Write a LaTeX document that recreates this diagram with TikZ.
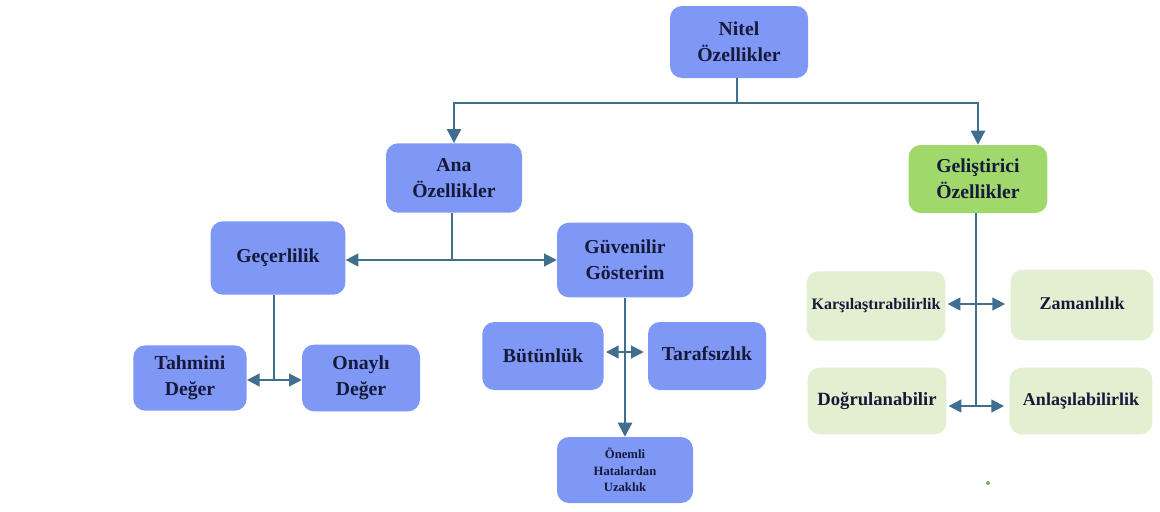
\documentclass[tikz,border=0pt]{standalone}
\usepackage{fontspec}
\setmainfont{Liberation Serif}
\usetikzlibrary{arrows.meta}
\definecolor{boxblue}{HTML}{7F98F6}
\definecolor{boxgreen}{HTML}{A0D86C}
\definecolor{lightgreen}{HTML}{E2EFD0}
\definecolor{txt}{HTML}{151A3A}
\definecolor{lineblue}{HTML}{3F6E8E}
\begin{document}
\begin{tikzpicture}[x=0.75pt,y=-0.75pt,
  bx/.style={rounded corners=9pt, inner sep=2pt, align=center, text=txt,
    font=\bfseries\fontsize{14.8}{19.5}\selectfont},
  bluebox/.style={bx, fill=boxblue},
  greenbox/.style={bx, fill=boxgreen},
  lgbox/.style={bx, fill=lightgreen},
  conn/.style={draw=lineblue, line width=1.6pt},
  onetip/.style={conn, -{Triangle[length=10.5pt,width=10.5pt]}},
  twotip/.style={conn, {Triangle[length=9.5pt,width=9.5pt]}-{Triangle[length=9.5pt,width=9.5pt]}}
]
\path[use as bounding box, fill=white] (0,0) rectangle (1160,511);

% nodes
\node[bluebox, minimum width=103.5pt, minimum height=54pt] (nitel) at (739,42) {Nitel\\Özellikler};
\node[bluebox, minimum width=102pt, minimum height=52pt] (ana) at (454,178) {Ana\\Özellikler};
\node[greenbox, minimum width=104pt, minimum height=51pt] (gel) at (978,179) {Geliştirici\\Özellikler};
\node[bluebox, minimum width=101pt, minimum height=55pt] (gec) at (278,258) {Geçerlilik};
\node[bluebox, minimum width=102pt, minimum height=56pt] (guv) at (625,260) {Güvenilir\\Gösterim};
\node[bluebox, minimum width=85pt, minimum height=49pt] (tah) at (190,378) {Tahmini\\Değer};
\node[bluebox, minimum width=88.5pt, minimum height=50pt] (ona) at (361,378) {Onaylı\\Değer};
\node[bluebox, minimum width=91pt, minimum height=51pt] (but) at (543,356) {Bütünlük};
\node[bluebox, minimum width=88.5pt, minimum height=51pt] (tar) at (707,356) {\raisebox{3pt}{Tarafsızlık}};
\node[bluebox, minimum width=102pt, minimum height=49.5pt,
      font=\bfseries\fontsize{9.5}{12.5}\selectfont] (one) at (625,470) {Önemli\\Hatalardan\\Uzaklık};
\node[lgbox, minimum width=104pt, minimum height=52pt,
      font=\bfseries\fontsize{12}{15}\selectfont] (kar) at (876,306) {Karşılaştırabilirlik};
\node[lgbox, minimum width=107pt, minimum height=53pt,
      font=\bfseries\fontsize{13.5}{17}\selectfont] (zam) at (1082,305) {\raisebox{2pt}{Zamanlılık}};
\node[lgbox, minimum width=104pt, minimum height=50pt,
      font=\bfseries\fontsize{14}{17}\selectfont] (dog) at (877,401) {Doğrulanabilir};
\node[lgbox, minimum width=107pt, minimum height=50pt,
      font=\bfseries\fontsize{13.5}{17}\selectfont] (anl) at (1081,401) {Anlaşılabilirlik};

% junctions
\coordinate (j1) at (737,103);
\coordinate (j2) at (452,260);
\coordinate (j3) at (274,380);
\coordinate (j4a) at (976,304);
\coordinate (j4) at (976,406);
\coordinate (j5) at (625,352);

% connectors
\draw[conn] (nitel.south -| j1) -- (j1);
\draw[onetip] (j1) -| (ana.north);
\draw[onetip] (j1) -| (gel.north);

\draw[conn] (ana.south -| j2) -- (j2);
\draw[twotip] (gec.east |- j2) -- (guv.west |- j2);

\draw[conn] (gec.south -| j3) -- (j3);
\draw[twotip] (tah.east |- j3) -- (ona.west |- j3);

\draw[onetip] (guv.south) -- (one.north);
\draw[twotip] ([xshift=1.5pt]but.east |- j5) -- ([xshift=-3pt]tar.west |- j5);

\draw[conn] (gel.south -| j4) -- (j4);
\draw[twotip] ([xshift=1.5pt]kar.east |- j4a) -- ([xshift=-4pt]zam.west |- j4a);
\draw[twotip] ([xshift=1.5pt]dog.east |- j4) -- ([xshift=-4pt]anl.west |- j4);

% small dot
\fill[boxgreen!80!black] (988,483) circle (1.5pt);
\end{tikzpicture}
\end{document}
